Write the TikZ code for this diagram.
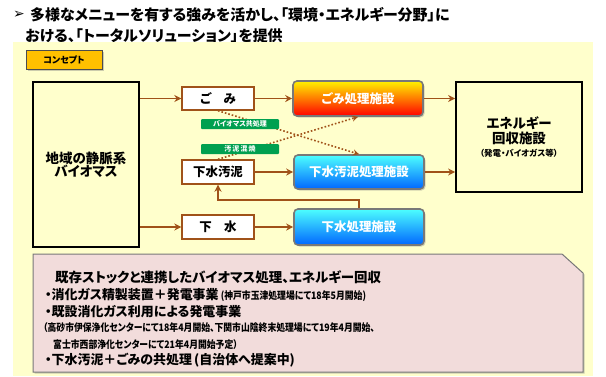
\documentclass[tikz,border=0pt]{standalone}
\usepackage{fontspec}
\newfontfamily\jp[RawFeature=+palt]{Noto Sans CJK JP}
\newfontfamily\jpnarrow[RawFeature=+palt, FakeStretch=0.86]{Noto Sans CJK JP}
\newfontfamily\sym{DejaVu Sans}
\usetikzlibrary{arrows.meta, positioning, shadows}

\definecolor{panelbg}{RGB}{255,255,204}
\definecolor{arrbrown}{RGB}{160,82,25}
\definecolor{labgreen}{RGB}{0,160,80}
\definecolor{notepink}{RGB}{242,220,219}
\definecolor{btnorange}{RGB}{255,192,0}
\definecolor{framegray}{RGB}{120,120,120}

\newcommand{\fs}[1]{\fontsize{#1}{#1}\selectfont}

\tikzset{
  flow/.style={draw=arrbrown, line width=1.8bp, -{Stealth[length=7bp,width=7bp]}},
  dotflow/.style={draw=arrbrown, line width=1.6bp, dotted, -{Stealth[length=6bp,width=6bp]}},
  srcbox/.style={draw=black, line width=1.8bp, fill=panelbg, inner sep=0pt},
  itembox/.style={draw=arrbrown, line width=1.4bp, fill=white, inner sep=0pt,
    minimum width=72bp, font=\jp\bfseries\fs{12.5}},
  plantbox/.style={draw=framegray, line width=1.6bp, rounded corners=4bp, inner sep=0pt,
    minimum width=130bp, text=white, font=\jp\bfseries\fs{12.5},
    drop shadow={opacity=0.35, shadow xshift=1.5bp, shadow yshift=-1.5bp}},
  fireplant/.style={plantbox, top color=yellow!90!orange, middle color=orange!70!red, bottom color=red},
  waterplant/.style={plantbox, top color=cyan!70!white, bottom color=blue!60!cyan},
  tag/.style={fill=labgreen, inner sep=0pt, minimum width=78bp, minimum height=10bp,
    rounded corners=1bp, text=white, font=\jp\bfseries\fs{7}},
  noteline/.style={anchor=west, inner sep=0pt, font=\jp\bfseries\fs{13}},
  notesmall/.style={anchor=west, inner sep=0pt, font=\jpnarrow\bfseries\fs{10.3}}
}

\begin{document}
\begin{tikzpicture}[x=1bp, y=-1bp]
\useasboundingbox (0,0) rectangle (606,376);

% Heading
\node[anchor=center, inner sep=0pt, font=\sym\fs{14}] (bullet) at (19,15) {➢};
\node[anchor=west, inner sep=0pt, font=\jp\bfseries\fs{15}] (head1) at (30,15)
  {多様なメニューを有する強みを活かし、「環境・エネルギー分野」に};
\node[anchor=west, inner sep=0pt, font=\jp\bfseries\fs{15}] (head2) at (25,36)
  {おける、「トータルソリューション」を提供};

% Panel
\fill[panelbg] (13,42) rectangle (593,376);
\node[draw=black!70, fill=btnorange, line width=1bp, minimum width=76bp, minimum height=19bp,
  inner sep=0pt, font=\jp\bfseries\fs{9},
  drop shadow={opacity=0.4, shadow xshift=1.5bp, shadow yshift=-1.5bp}] (concept) at (64,59.5) {コンセプト};

% Sources
\node[srcbox, minimum width=106bp, minimum height=165bp, align=center,
  font=\jp\bfseries\fs{13.5}] (src) at (86,164.5) {地域の静脈系\\バイオマス};
\node[itembox, minimum height=23bp] (gomi) at (218,98.5) {ご\hspace{1em}み};
\node[itembox, minimum height=24bp] (sludge) at (218,172) {下水汚泥};
\node[itembox, minimum height=24bp] (sewage) at (218,227) {下\hspace{1em}水};

% Plants
\node[fireplant, minimum height=35bp] (plantA) at (358,98.5) {ごみ処理施設};
\node[waterplant, minimum height=34bp] (plantB) at (359,172) {下水汚泥処理施設};
\node[waterplant, minimum height=36bp] (plantC) at (359,227) {下水処理施設};

% Energy recovery
\node[srcbox, minimum width=126bp, minimum height=110bp, align=center] (energy) at (519,137)
  {{\jp\bfseries\fs{13.5}エネルギー}\\[1bp]{\jp\bfseries\fs{13.5}回収施設}\\[1bp]{\jp\bfseries\fs{8.5}（発電・バイオガス等）}};

% Flows
\draw[flow] (src.east |- gomi) -- (gomi);
\draw[flow] (src.east |- sewage) -- (sewage);
\draw[flow] (gomi) -- (plantA);
\draw[flow] (sludge) -- (plantB);
\draw[flow] (sewage) -- (plantC);
\draw[flow] (plantA) -- (energy.west |- plantA);
\draw[flow] (plantB) -- (energy.west |- plantB);
\coordinate (fb) at (218,200);
\draw[flow] (plantC.north) |- (fb) -- (sludge.south);

% Co-processing
\draw[dotflow] (gomi.south) -- (plantB.north);
\draw[dotflow] (sludge.north) -- (plantA.south);
\node[tag] (tagA) at (240,124) {バイオマス共処理};
\node[tag] (tagB) at (240,149) {汚\,泥\,混\,焼};

% Note
\draw[fill=notepink, draw=framegray, line width=1bp,
  drop shadow={opacity=0.4, shadow xshift=1.5bp, shadow yshift=-1.5bp}]
  (33,254) -- (562,254) -- (583,273) -- (583,372) -- (33,372) -- cycle;
\node[noteline, font=\jp\bfseries\fs{13.5}] (note0) at (55,277) {既存ストックと連携したバイオマス処理、エネルギー回収};
\node[noteline] (note1) at (45,295) {・消化ガス精製装置＋発電事業\,{\jpnarrow\fs{10.3}(神戸市玉津処理場にて18年5月開始)}};
\node[noteline] (note2) at (45,312) {・既設消化ガス利用による発電事業};
\node[notesmall] (note3) at (43,328) {（高砂市伊保浄化センターにて18年4月開始、下関市山陰終末処理場にて19年4月開始、};
\node[notesmall] (note4) at (53,345) {富士市西部浄化センターにて21年4月開始予定）};
\node[noteline] (note5) at (45,360) {・下水汚泥＋ごみの共処理\,(自治体へ提案中)};
\end{tikzpicture}
\end{document}
